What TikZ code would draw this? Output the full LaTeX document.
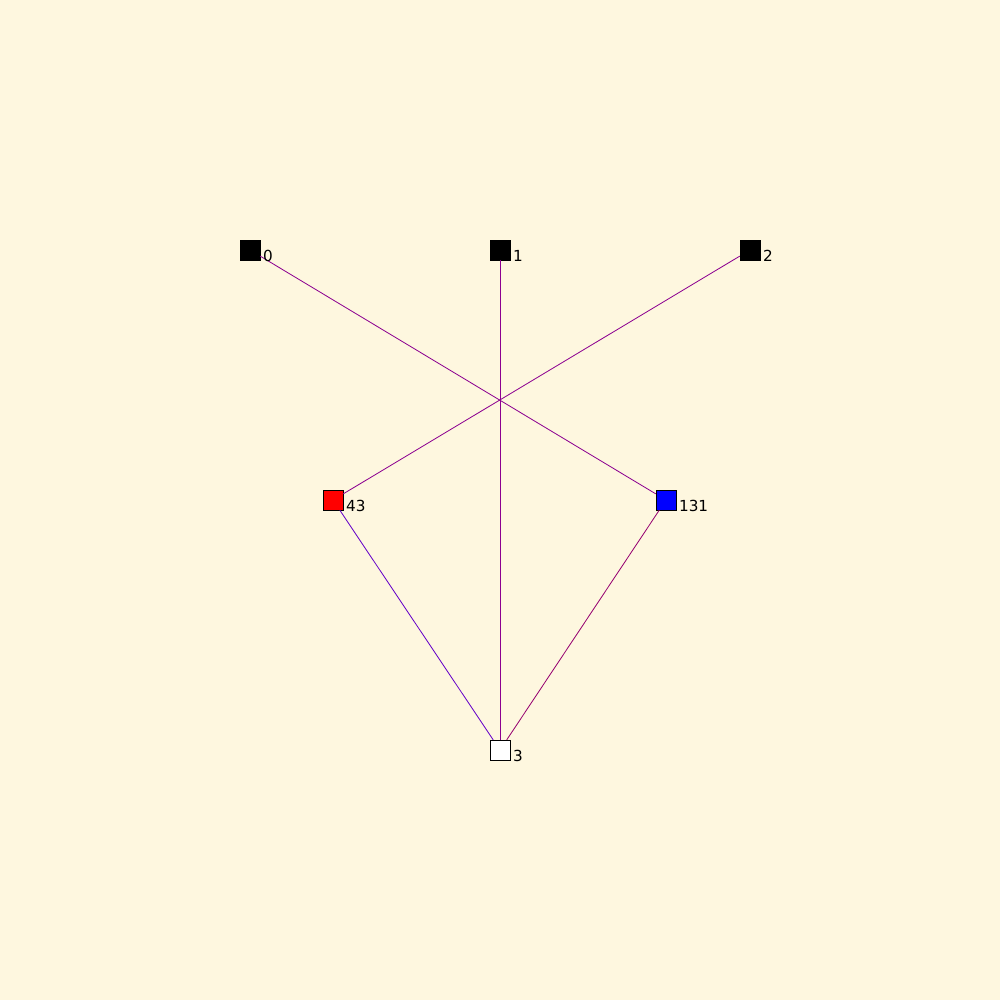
\documentclass[tikz,border=0pt]{standalone}
\usepackage{fontspec}
\setmainfont{DejaVu Sans}
\usetikzlibrary{positioning}
\definecolor{paper}{HTML}{FEF7DF}
\definecolor{edgeA}{HTML}{8C0090}
\definecolor{edgeB}{HTML}{6400C8}
\definecolor{edgeC}{HTML}{960070}
\tikzset{x=.3mm,y=-.3mm,
  vert/.style={draw=black,line width=.35pt,minimum size=6mm,inner sep=0pt},
  tag/.style={anchor=base west,inner sep=0pt,font=\fontsize{13pt}{14pt}\selectfont},
  link/.style={line width=.7pt}}

\begin{document}
\begin{tikzpicture}
\fill[paper] (0,0) rectangle (1000,1000);
\useasboundingbox (0,0) rectangle (1000,1000);

\node[vert,fill=black] (n0) at (250,250) {};
\node[vert,fill=black] (n1) at (500,250) {};
\node[vert,fill=black] (n2) at (750,250) {};
\node[vert,fill=red] (n43) at (333,500) {};
\node[vert,fill=blue] (n131) at (666,500) {};
\node[vert,fill=white] (n3) at (500,750) {};

\draw[link,edgeA] (n0)--(n131);
\draw[link,edgeA] (n2)--(n43);
\draw[link,edgeA] (n1)--(n3);
\draw[link,edgeB] (n43)--(n3);
\draw[link,edgeC] (n131)--(n3);

\node[tag] (t0) at ([xshift=.8mm,yshift=-.3mm]n0.south east) {0};
\node[tag] (t1) at ([xshift=.8mm,yshift=-.3mm]n1.south east) {1};
\node[tag] (t2) at ([xshift=.8mm,yshift=-.3mm]n2.south east) {2};
\node[tag] (t43) at ([xshift=.8mm,yshift=-.3mm]n43.south east) {43};
\node[tag] (t131) at ([xshift=.8mm,yshift=-.3mm]n131.south east) {131};
\node[tag] (t3) at ([xshift=.8mm,yshift=-.3mm]n3.south east) {3};
\end{tikzpicture}
\end{document}
